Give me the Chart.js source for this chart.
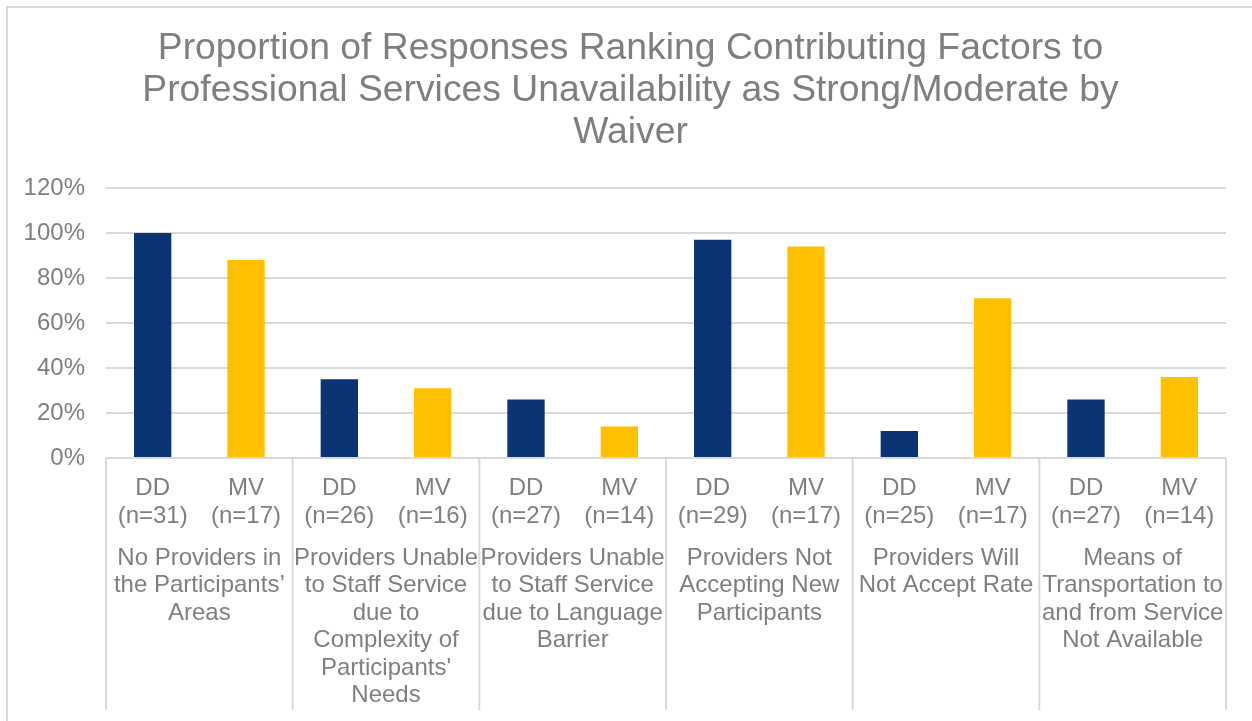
<!DOCTYPE html>
<html>
<head>
<meta charset="utf-8">
<script src="https://cdn.jsdelivr.net/npm/chart.js@4"></script>
<style>
  html, body { margin: 0; padding: 0; background: #fff; }
  #wrap { width: 1252px; height: 721px; position: relative; }
</style>
</head>
<body>
<div id="wrap"><canvas id="chart"></canvas></div>
<script>
// bar labels (waiver + sample size)
const barLabels = [
  ['DD', '(n=31)'], ['MV', '(n=17)'],
  ['DD', '(n=26)'], ['MV', '(n=16)'],
  ['DD', '(n=27)'], ['MV', '(n=14)'],
  ['DD', '(n=29)'], ['MV', '(n=17)'],
  ['DD', '(n=25)'], ['MV', '(n=17)'],
  ['DD', '(n=27)'], ['MV', '(n=14)']
];
// contributing factor groups (two bars each)
const groupLabels = [
  ['No Providers in', 'the Participants\u2019', 'Areas'],
  ['Providers Unable', 'to Staff Service', 'due to', 'Complexity of', "Participants'", 'Needs'],
  ['Providers Unable', 'to Staff Service', 'due to Language', 'Barrier'],
  ['Providers Not', 'Accepting New', 'Participants'],
  ['Providers Will', 'Not Accept Rate'],
  ['Means of', 'Transportation to', 'and from Service', 'Not Available']
];
const values = [1.00, 0.88, 0.35, 0.31, 0.26, 0.14, 0.97, 0.94, 0.12, 0.71, 0.26, 0.36];
const waivers = ['DD', 'MV', 'DD', 'MV', 'DD', 'MV', 'DD', 'MV', 'DD', 'MV', 'DD', 'MV'];
const yTicks = [0, 0.2, 0.4, 0.6, 0.8, 1.0, 1.2];
const titleLines = [
  'Proportion of Responses Ranking Contributing Factors to',
  'Professional Services Unavailability as Strong/Moderate by',
  'Waiver'
];

const waiverColors = { DD: '#0B3475', MV: '#FFC000' };
const textColor = '#7f7f7f';
const lineColor = '#d9d9d9';
const fontFamily = '"Liberation Sans", Arial, Helvetica, sans-serif';

// frame, title, group separators and group labels under the axis
const groupAxisPlugin = {
  id: 'groupAxis',
  beforeDraw(chart) {
    const ctx = chart.ctx;
    ctx.save();
    ctx.strokeStyle = lineColor;
    ctx.lineWidth = 2;
    ctx.beginPath();
    ctx.moveTo(7, 721);
    ctx.lineTo(7, 7);
    ctx.lineTo(1252, 7);
    ctx.stroke();

    ctx.fillStyle = textColor;
    ctx.font = '37.3px ' + fontFamily;
    ctx.textAlign = 'center';
    ctx.textBaseline = 'middle';
    titleLines.forEach((t, i) => ctx.fillText(t, 630.5, 49 + i * 42));
    ctx.restore();
  },
  afterDraw(chart) {
    const ctx = chart.ctx;
    const x = chart.scales.x;
    const top = chart.chartArea.bottom;
    const bottom = 710;
    ctx.save();
    ctx.strokeStyle = lineColor;
    ctx.lineWidth = 2;
    const edges = [x.left];
    for (let g = 1; g < groupLabels.length; g++) {
      edges.push((x.getPixelForValue(2 * g - 1) + x.getPixelForValue(2 * g)) / 2);
    }
    edges.push(x.right);
    edges.forEach(px => {
      ctx.beginPath();
      ctx.moveTo(px, top);
      ctx.lineTo(px, bottom);
      ctx.stroke();
    });
    ctx.fillStyle = textColor;
    ctx.font = '24px ' + fontFamily;
    ctx.textAlign = 'center';
    ctx.textBaseline = 'middle';
    groupLabels.forEach((lines, g) => {
      const cx = (x.getPixelForValue(2 * g) + x.getPixelForValue(2 * g + 1)) / 2;
      lines.forEach((t, i) => ctx.fillText(t, cx, 558 + i * 27.5));
    });
    ctx.restore();
  }
};

new Chart(document.getElementById('chart'), {
  type: 'bar',
  data: {
    labels: barLabels,
    datasets: [{
      data: values,
      backgroundColor: waivers.map(w => waiverColors[w]),
      barPercentage: 0.4,
      categoryPercentage: 1.0
    }]
  },
  options: {
    responsive: true,
    maintainAspectRatio: false,
    animation: false,
    layout: { padding: { left: 0, right: 26, top: 188, bottom: 0 } },
    plugins: {
      legend: { display: false },
      tooltip: { enabled: false },
      title: { display: false }
    },
    scales: {
      x: {
        grid: { display: false, drawTicks: false },
        border: { display: false },
        ticks: {
          color: textColor,
          font: { family: fontFamily, size: 24, lineHeight: 28 / 24 },
          padding: 16,
          maxRotation: 0,
          autoSkip: false
        },
        afterFit(scale) { scale.height = 263; }
      },
      y: {
        min: 0,
        max: 1.2,
        afterBuildTicks(scale) { scale.ticks = yTicks.map(v => ({ value: v })); },
        grid: { color: lineColor, lineWidth: 2, drawTicks: false },
        border: { display: false },
        ticks: {
          color: textColor,
          font: { family: fontFamily, size: 24 },
          padding: 21,
          callback: v => Math.round(v * 100) + '%'
        },
        afterFit(scale) { scale.width = 106; }
      }
    }
  },
  plugins: [groupAxisPlugin]
});
</script>
</body>
</html>
